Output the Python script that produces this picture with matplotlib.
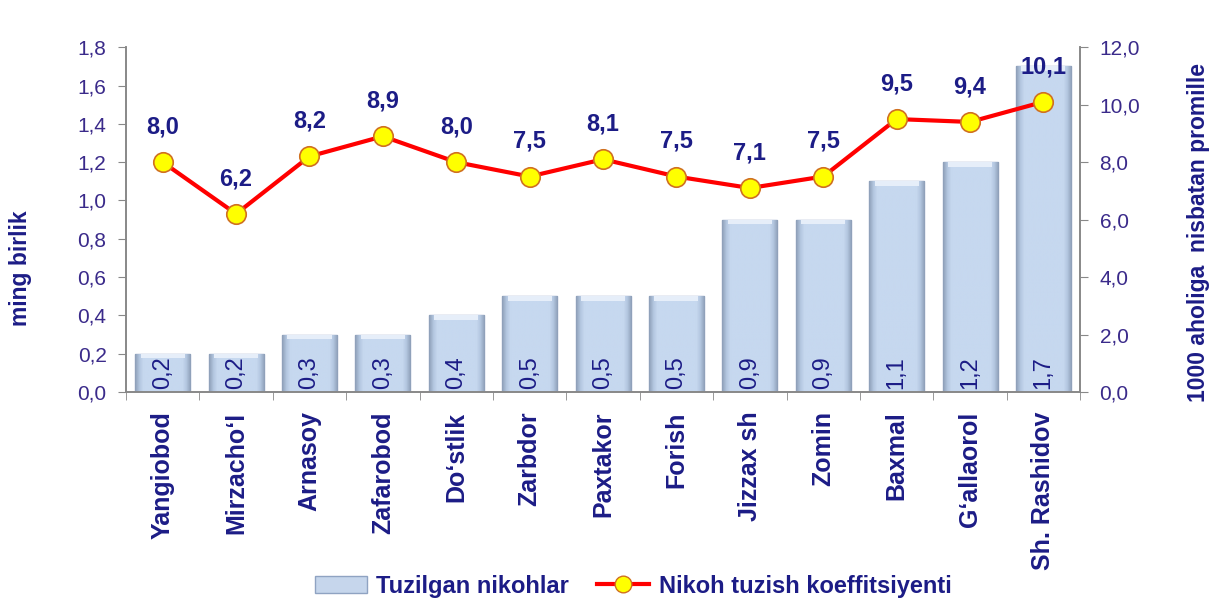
import numpy as np
import matplotlib.pyplot as plt
from matplotlib.lines import Line2D
from matplotlib.patches import Patch
from matplotlib.colors import LinearSegmentedColormap

# Jizzax viloyati: tuzilgan nikohlar va nikoh tuzish koeffitsiyenti
tumanlar = ['Yangiobod', 'Mirzacho\u2018l', 'Arnasoy', 'Zafarobod', 'Do\u2018stlik', 'Zarbdor',
            'Paxtakor', 'Forish', 'Jizzax sh', 'Zomin', 'Baxmal', 'G\u2018allaorol', 'Sh. Rashidov']
nikohlar = [0.2, 0.2, 0.3, 0.3, 0.4, 0.5, 0.5, 0.5, 0.9, 0.9, 1.1, 1.2, 1.7]
koeff = [8.0, 6.2, 8.2, 8.9, 8.0, 7.5, 8.1, 7.5, 7.1, 7.5, 9.5, 9.4, 10.1]

navy = '#1c1c86'
tick_col = '#3a2a8a'
plt.rcParams['font.family'] = ['Liberation Sans', 'DejaVu Sans']

fig = plt.figure(figsize=(12.15, 5.98), dpi=100)
ax = fig.add_axes([0.1037, 0.3445, 0.7853, 0.5765])
ax2 = ax.twinx()

x = np.arange(len(tumanlar))
bars = ax.bar(x, nikohlar, width=0.75, color='#c6d6ec', edgecolor='#8fa3c2', linewidth=1.0, zorder=2)

# bo'rtma (bevel) effekti: chetlari to'qroq
bevel = LinearSegmentedColormap.from_list('bevel', [(0, '#8e9fb8'), (0.08, '#b4c7e0'),
                                                    (0.15, '#c6d8ef'), (0.85, '#c6d8ef'),
                                                    (0.92, '#b4c7e0'), (1, '#8e9fb8')])
grad = np.linspace(0, 1, 200).reshape(1, -1)
for b in bars:
    x0, w, h = b.get_x(), b.get_width(), b.get_height()
    im = ax.imshow(grad, cmap=bevel, extent=[x0, x0 + w, 0, h], aspect='auto', zorder=2.1)
    im.set_clip_path(b)
    ax.fill_between([x0 + w * 0.1, x0 + w * 0.9], h - 0.025, h, color='#e6eef9', zorder=2.2,
                    linewidth=0)
ax.set_aspect('auto')

for xi, v in zip(x, nikohlar):
    ax.text(xi, 0.015, f'{v:.1f}'.replace('.', ','), rotation=90, ha='center', va='bottom',
            fontsize=17, color=navy, zorder=3)

ax.set_xlim(-0.5, len(tumanlar) - 0.5)
ax.set_ylim(0, 1.8)
ax.set_yticks(np.arange(0, 1.81, 0.2))
ax.set_yticklabels([f'{t:.1f}'.replace('.', ',') for t in np.arange(0, 1.81, 0.2)])
ax.set_xticks(x)
ax.set_xticklabels(tumanlar, rotation=90, fontsize=18, fontweight='bold', color=navy)
ax.set_xticks(np.arange(-0.5, len(tumanlar)), minor=True)
ax.tick_params(axis='x', which='major', length=0, pad=14)
ax.tick_params(axis='x', which='minor', length=6, color='#888888')
ax.tick_params(axis='y', labelsize=15, labelcolor=tick_col, color='#888888', length=6, pad=8)

ax2.plot(x, koeff, color='#ff0000', linewidth=3, marker='o', markersize=14,
         markerfacecolor='#ffff00', markeredgecolor='#d07020', markeredgewidth=1.2, zorder=4)
for xi, v in zip(x, koeff):
    ax2.annotate(f'{v:.1f}'.replace('.', ','), (xi, v), xytext=(0, 17), textcoords='offset points',
                 ha='center', va='bottom', fontsize=17, fontweight='bold', color=navy,
                 annotation_clip=False)
ax2.set_ylim(0, 12)
ax2.set_yticks(np.arange(0, 12.1, 2))
ax2.set_yticklabels([f'{t:.1f}'.replace('.', ',') for t in np.arange(0, 12.1, 2)])
ax2.tick_params(axis='y', labelsize=15, labelcolor=tick_col, color='#888888', length=6, pad=8)

# o'q nomlari
fig.text(21 / 1215, 1 - 268 / 598, 'ming birlik', rotation=90, ha='center', va='center',
         fontsize=16.5, fontweight='bold', color=navy)
fig.text(1199 / 1215, 1 - 232 / 598, '1000 aholiga  nisbatan promille', rotation=90,
         ha='center', va='center', fontsize=16.5, fontweight='bold', color=navy)

for a in (ax, ax2):
    a.spines['top'].set_visible(False)
    for s in ('left', 'right', 'bottom'):
        a.spines[s].set_color('#888888')
        a.spines[s].set_linewidth(1.2)

handles = [Patch(facecolor='#c6d6ec', edgecolor='#8fa3c2', label='Tuzilgan nikohlar'),
           Line2D([0], [0], color='#ff0000', linewidth=3, marker='o', markersize=12,
                  markerfacecolor='#ffff00', markeredgecolor='#d07020',
                  label='Nikoh tuzish koeffitsiyenti')]
leg = fig.legend(handles=handles, loc='lower center', bbox_to_anchor=(0.521, -0.035), ncol=2,
                 frameon=False, fontsize=17, handlelength=2.2, handletextpad=0.4,
                 columnspacing=1.2)
for t in leg.get_texts():
    t.set_color(navy)
    t.set_fontweight('bold')

fig.savefig('out.png', dpi=100)
